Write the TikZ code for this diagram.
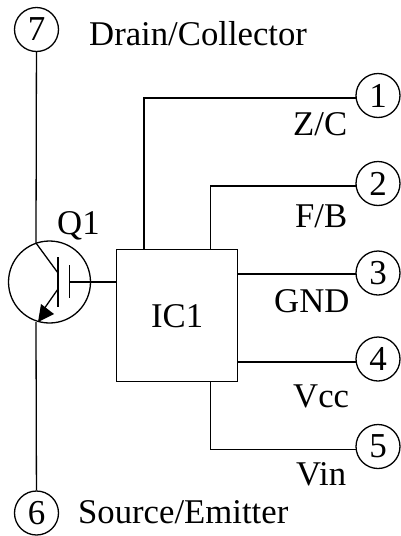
\documentclass[tikz,border=0pt]{standalone}
\usepackage{fontspec}
\setmainfont{Liberation Serif}
\begin{document}
\begin{tikzpicture}[x=1pt,y=-1pt,
  wire/.style={line width=1.3pt,line cap=butt},
  pin/.style={draw,circle,line width=1.3pt,minimum size=44pt,inner sep=0pt,font=\fontsize{35}{35}\selectfont},
  lbl/.style={inner sep=0pt,anchor=base west,font=\fontsize{34.7}{35}\selectfont}]
\useasboundingbox (0,0) rectangle (400,536);
\node[pin] (p7) at (36.5,29.5) {7};
\node[pin] (p6) at (36.5,513) {6};
\node[pin] (p1) at (378,95.5) {1};
\node[pin] (p2) at (378,183.5) {2};
\node[pin] (p3) at (378,273) {3};
\node[pin] (p4) at (378,359) {4};
\node[pin] (p5) at (378,446.5) {5};
\node[draw,line width=1.3pt,minimum width=121pt,minimum height=132pt,inner sep=0pt,font=\fontsize{34.7}{35}\selectfont] (ic) at (177.2,315.7) {IC1};
\node[draw,circle,line width=1.3pt,minimum size=82pt,inner sep=0pt] (q) at (49.5,282) {};
\node[lbl] (t7) at (89,45) {Drain/Collector};
\node[lbl] (t6) at (78,523) {Source/Emitter};
\node[lbl] (tq) at (57,234) {Q1};
\node[lbl] (t1) at (293,135) {Z/C};
\node[lbl] (t2) at (295,227) {F/B};
\node[lbl] (t3) at (274,312) {GND};
\node[lbl] (t4) at (293,407) {Vcc};
\node[lbl] (t5) at (296,485) {Vin};
\coordinate (qt) at (36,243);
\coordinate (qb) at (36,322);
\coordinate (g1t) at (58,257);
\coordinate (g1b) at (58,307);
\coordinate (g2t) at (69.5,265);
\coordinate (g2b) at (69.5,298);
\coordinate (gm) at (69.5,282);
\coordinate (ct) at (58,273);
\coordinate (cb) at (58,289);
\coordinate (e1) at (355.5,98);
\coordinate (e2) at (355.5,186);
\coordinate (e3) at (355.5,274);
\coordinate (e4) at (355.5,362);
\coordinate (e5) at (355.5,449.5);
\coordinate (i1) at (144,249.7);
\coordinate (i2) at (210.5,249.7);
\coordinate (i5) at (210.5,381.7);
\draw[wire] (p7) -- (qt);
\draw[wire] (qb) -- (p6);
\draw[wire] (qt) -- (ct);
\draw[wire] (cb) -- (44,309);
\fill (38,322) -- (41,304) -- (54,314) -- cycle;
\draw[wire] (g1t) -- (g1b);
\draw[wire] (g2t) -- (g2b);
\draw[wire] (gm) -- (ic.west |- gm);
\draw[wire] (i1) |- (e1);
\draw[wire] (i2) |- (e2);
\draw[wire] (ic.east |- e3) -- (e3);
\draw[wire] (ic.east |- e4) -- (e4);
\draw[wire] (i5) |- (e5);
\end{tikzpicture}
\end{document}
